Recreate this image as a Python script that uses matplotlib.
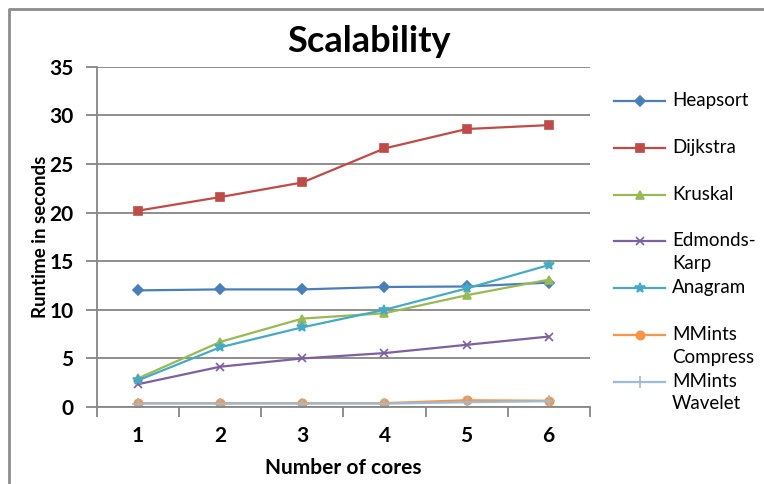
import numpy as np
import matplotlib
matplotlib.use("Agg")
from matplotlib import pyplot as plt
from matplotlib.lines import Line2D

plt.rcParams['font.family'] = ['Lato', 'DejaVu Sans']

# 코어 수
cores = [1, 2, 3, 4, 5, 6]

# 각 알고리즘 실행 시간 (초)
heapsort = [12.0, 12.1, 12.1, 12.35, 12.4, 12.8]
dijkstra = [20.2, 21.6, 23.1, 26.6, 28.6, 29.0]
kruskal = [2.95, 6.7, 9.1, 9.65, 11.5, 13.1]
edmonds_karp = [2.35, 4.15, 5.0, 5.55, 6.4, 7.25]
anagram = [2.75, 6.15, 8.2, 10.0, 12.2, 14.6]
mmints_compress = [0.4, 0.4, 0.4, 0.4, 0.7, 0.65]
mmints_wavelet = [0.35, 0.35, 0.35, 0.35, 0.5, 0.6]

labels = ["Heapsort", "Dijkstra", "Kruskal", "Edmonds-\nKarp", "Anagram",
          "MMints\nCompress", "MMints\nWavelet"]
series = [heapsort, dijkstra, kruskal, edmonds_karp, anagram,
          mmints_compress, mmints_wavelet]
colors = ["#4A7EBB", "#BE4B48", "#98B954", "#7D60A0", "#46AAC5", "#F79646", "#9BBBD9"]
markers = ["D", "s", "^", "x", "*", "o", "+"]
msizes = [5, 6, 6, 6, 7, 6, 8]

fig = plt.figure(figsize=(7.64, 4.84), dpi=100)
ax = fig.add_axes([0.127, 0.159, 0.645, 0.703])

for y, c, m, ms in zip(series, colors, markers, msizes):
    ax.plot(cores, y, color=c, marker=m, markersize=ms, linewidth=1.6,
            markeredgewidth=1.2)

ax.set_xlim(0.5, 6.5)
ax.set_ylim(0, 35)
ax.set_yticks(np.arange(0, 36, 5))
ax.set_xticks(cores)
ax.set_xticks(np.arange(0.5, 6.6, 1), minor=True)
ax.yaxis.grid(True, color="#868686", linewidth=1.3)
ax.set_axisbelow(True)

for s in ["top", "right"]:
    ax.spines[s].set_visible(False)
for s in ["left", "bottom"]:
    ax.spines[s].set_color("#868686")
    ax.spines[s].set_linewidth(1.3)

ax.tick_params(axis="y", which="major", direction="out", length=8, width=1.3,
               color="#868686", labelsize=15, pad=9)
ax.tick_params(axis="x", which="major", length=0, labelsize=15, pad=14)
ax.tick_params(axis="x", which="minor", direction="out", length=7, width=1.3,
               color="#868686")
for t in ax.get_xticklabels() + ax.get_yticklabels():
    t.set_fontweight("bold")

ax.set_xlabel("Number of cores", fontsize=15, fontweight="bold", labelpad=8)
ax.set_ylabel("Runtime in seconds", fontsize=13.5, fontweight="bold", labelpad=0)
fig.suptitle("Scalability", fontsize=26, fontweight="bold", x=0.483, y=0.948)

# 범례 (엑셀 스타일, 고정 간격)
for i, (lab, c, m, ms) in enumerate(zip(labels, colors, markers, msizes)):
    yy = 1 - (101 + 46.8 * i) / 484
    fig.add_artist(Line2D([614 / 764, 639.5 / 764, 665 / 764], [yy, yy, yy], color=c,
                          linewidth=1.6, marker=m, markersize=ms, markevery=[1],
                          markeredgewidth=1.2, transform=fig.transFigure))
    fig.text(672 / 764, yy + 9 / 484, lab, fontsize=13.5, va="top", ha="left",
             linespacing=1.4)

# 바깥 테두리
fig.add_artist(Line2D([9 / 764, 9 / 764, 1], [0, 1 - 9 / 484, 1 - 9 / 484],
                      color="#8c8c8c", linewidth=2, transform=fig.transFigure))

fig.savefig("out.png", dpi=100)
